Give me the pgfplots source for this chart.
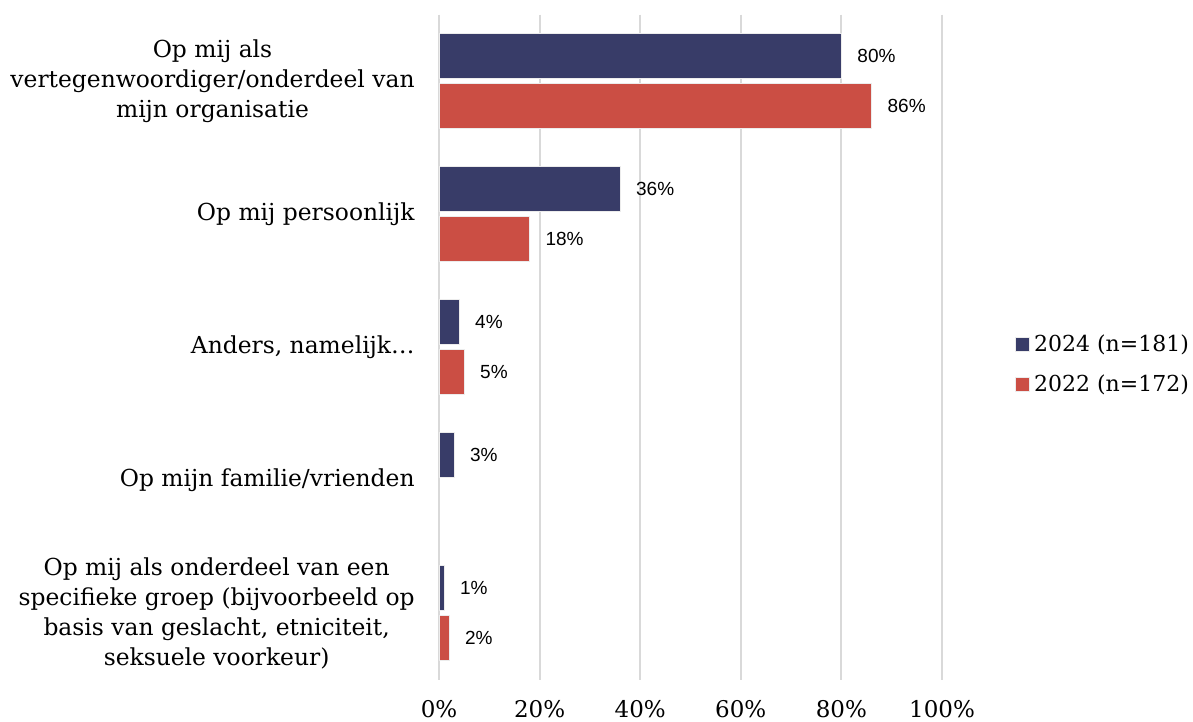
\documentclass[border=0pt]{standalone}
\usepackage{fontspec}
\setmainfont{DejaVu Serif}
\newfontfamily\labelfont{Liberation Sans}
\usepackage{pgfplots}
\pgfplotsset{compat=1.18}
\definecolor{navy}{RGB}{56,60,104}
\definecolor{brick}{RGB}{203,78,68}
\definecolor{gridc}{RGB}{217,217,217}
\begin{document}
\begin{tikzpicture}
\useasboundingbox (0,0) rectangle (596.5pt,361pt);
\begin{axis}[
  at={(219.5pt,21.25pt)}, anchor=south west,
  scale only axis, width=251.5pt, height=332.5pt,
  xbar, bar width=0.34,
  xmin=0, xmax=100, ymin=-0.5, ymax=4.5, y dir=reverse,
  /pgf/number format/assume math mode=true,
  xtick={0,20,40,60,80,100},
  xticklabels={0\%,20\%,40\%,60\%,80\%,100\%},
  ytick={0,1,2,3,4},
  yticklabels={{Op mij als\\vertegenwoordiger/onderdeel van\\mijn organisatie},
               {Op mij persoonlijk},
               {Anders, namelijk…},
               {Op mijn familie/vrienden},
               {Op mij als onderdeel van een\\specifieke groep (bijvoorbeeld op\\basis van geslacht, etniciteit,\\seksuele voorkeur)}},
  yticklabel style={align=center, font=\fontsize{11.7}{15}\selectfont, inner sep=0pt, xshift=-12pt},
  xticklabel style={font=\fontsize{11.5}{14}\selectfont, yshift=-7pt},
  axis line style={draw=none},
  tick style={draw=none},
  major tick length=0pt,
  xmajorgrids, grid style={gridc, line width=1pt},
  point meta=x,
  nodes near coords={\pgfmathprintnumber\pgfplotspointmeta\%},
  nodes near coords style={font=\labelfont\fontsize{9.5}{11}\selectfont, anchor=west, xshift=4.5pt, text=black},
  legend style={at={(1.145,0.474)}, anchor=west, draw=none, fill=none,
    font=\fontsize{11}{13}\selectfont, row sep=6pt, inner sep=0pt,
    legend cell align=left},
  legend image code/.code={\fill[#1] (0pt,-3.5pt) rectangle (7pt,3.5pt);},
]
\addplot[fill=navy, draw=white!85!gray, line width=0.4pt, bar shift=-0.19]
  coordinates {(80,0) (36,1) (4,2) (3,3) (1,4)};
\addlegendentry{2024 (n=181)}
\addplot[fill=brick, draw=white!85!gray, line width=0.4pt, bar shift=0.19]
  coordinates {(86,0) (18,1) (5,2) (2,4)};
\addlegendentry{2022 (n=172)}
\end{axis}
\end{tikzpicture}
\end{document}
